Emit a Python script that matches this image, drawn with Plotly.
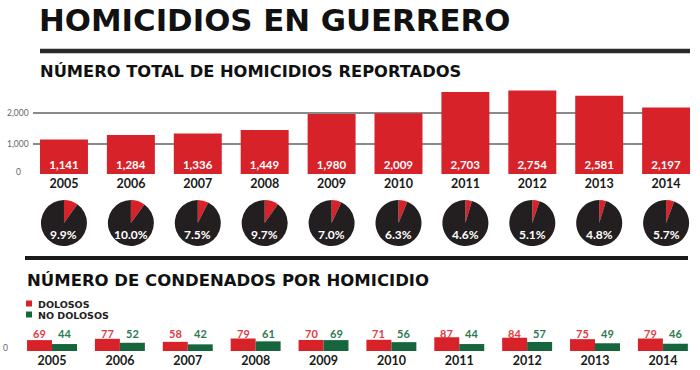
import plotly.graph_objects as go

# ---------------- data ----------------
years = ["2005", "2006", "2007", "2008", "2009", "2010", "2011", "2012", "2013", "2014"]
homicidios = [1141, 1284, 1336, 1449, 1980, 2009, 2703, 2754, 2581, 2197]
pct_condena = [9.9, 10.0, 7.5, 9.7, 7.0, 6.3, 4.6, 5.1, 4.8, 5.7]
dolosos = [69, 77, 58, 79, 70, 71, 87, 84, 75, 79]
no_dolosos = [44, 52, 42, 61, 69, 56, 44, 57, 49, 46]
y_ticks = [0, 1000, 2000]
y_tick_labels = ["0", "1,000", "2,000"]

title = "HOMICIDIOS EN GUERRERO"
subtitle1 = "NÚMERO TOTAL DE HOMICIDIOS REPORTADOS"
subtitle2 = "NÚMERO DE CONDENADOS POR HOMICIDIO"
legend_names = ["DOLOSOS", "NO DOLOSOS"]

# ---------------- style ----------------
W, H = 700, 370
RED = "#d7222a"
PIE_BLACK = "#231f20"
GREEN = "#17653c"
RED_TXT = "#e23a3f"
GREEN_TXT = "#2c7a4e"
GRID = "#8a8a8a"
FONT = "Lato"
HEAD = "DejaVu Sans"


def px_x(p):
    return p / W


def px_y(p):
    return 1 - p / H


# top axis geometry (pixels)
top_left, top_right = 33, 690
top_base, top_top = 174, 83
top_range = [-0.463, 9.357]
top_unit = (top_right - top_left) / (top_range[1] - top_range[0])

# bottom axis geometry
bot_left, bot_right = 21, 688
bot_base, bot_top = 351, 335
bot_range = [-0.457, 9.37]

fig = go.Figure()

# total homicides bars
fig.add_trace(go.Bar(
    x=years, y=homicidios, xaxis="x", yaxis="y",
    width=0.717, offset=-0.3585,
    marker=dict(color=RED, line=dict(width=0)),
    text=[f"{v:,}" for v in homicidios],
    textposition="inside", insidetextanchor="start",
    textfont=dict(family=FONT, size=11.5, color="white", weight="bold"),
    showlegend=False, hoverinfo="skip",
))

# sentenced bars
fig.add_trace(go.Bar(
    x=years, y=dolosos, xaxis="x2", yaxis="y2", name=legend_names[0],
    width=0.368, offset=-0.368,
    marker=dict(color=RED, line=dict(width=0)),
    showlegend=False, hoverinfo="skip",
))
fig.add_trace(go.Bar(
    x=years, y=no_dolosos, xaxis="x2", yaxis="y2", name=legend_names[1],
    width=0.368, offset=0.0,
    marker=dict(color=GREEN, line=dict(width=0)),
    showlegend=False, hoverinfo="skip",
))

annotations = []
shapes = []

# pies
pie_cy, pie_r = 223, 23
for i, p in enumerate(pct_condena):
    cx = top_left + (i - top_range[0]) * top_unit
    fig.add_trace(go.Pie(
        values=[p, 100 - p], sort=False, direction="clockwise", rotation=0,
        marker=dict(colors=[RED, PIE_BLACK], line=dict(width=0)),
        textinfo="none", hoverinfo="skip", showlegend=False,
        domain=dict(x=[px_x(cx - pie_r), px_x(cx + pie_r)],
                    y=[px_y(pie_cy + pie_r), px_y(pie_cy - pie_r)]),
    ))
    annotations.append(dict(
        x=px_x(cx), y=px_y(235), xref="paper", yref="paper",
        text=f"{p:.1f}%", showarrow=False, xanchor="center", yanchor="middle",
        font=dict(family=FONT, size=12, color="white", weight="bold"),
    ))

# bottom value labels
for i, (d, n) in enumerate(zip(dolosos, no_dolosos)):
    annotations.append(dict(
        x=i - 0.184, y=px_y(333.5), xref="x2", yref="paper", text=str(d),
        showarrow=False, xanchor="center", yanchor="middle",
        font=dict(family=FONT, size=11, color=RED_TXT, weight="bold"),
    ))
    annotations.append(dict(
        x=i + 0.184, y=px_y(333.5), xref="x2", yref="paper", text=str(n),
        showarrow=False, xanchor="center", yanchor="middle",
        font=dict(family=FONT, size=11, color=GREEN_TXT, weight="bold"),
    ))

# y tick labels (top)
for v, lab in zip(y_ticks, y_tick_labels):
    annotations.append(dict(
        x=px_x(18), y=v, xref="paper", yref="y", text=lab, showarrow=False,
        xanchor="center", yanchor="middle", yshift=2 if v == 0 else 0,
        font=dict(family=FONT, size=8.5, color="#666666"),
    ))
# bottom "0"
annotations.append(dict(
    x=px_x(5), y=0, xref="paper", yref="y2", text="0", showarrow=False,
    xanchor="center", yanchor="middle", yshift=3,
    font=dict(family=FONT, size=8.5, color="#666666"),
))

# titles
annotations.append(dict(
    x=px_x(37), y=px_y(20), xref="paper", yref="paper", text=title,
    showarrow=False, xanchor="left", yanchor="middle",
    font=dict(family=HEAD, size=30.8, color="#111111", weight="bold"),
))
annotations.append(dict(
    x=px_x(38), y=px_y(71), xref="paper", yref="paper", text=subtitle1,
    showarrow=False, xanchor="left", yanchor="middle",
    font=dict(family=HEAD, size=16.3, color="#111111", weight="bold"),
))
annotations.append(dict(
    x=px_x(25), y=px_y(280), xref="paper", yref="paper", text=subtitle2,
    showarrow=False, xanchor="left", yanchor="middle",
    font=dict(family=HEAD, size=16.5, color="#111111", weight="bold"),
))

# legend (manual)
for name, col, yc in zip(legend_names, [RED, GREEN], [303.5, 314.5]):
    shapes.append(dict(type="rect", xref="paper", yref="paper",
                       x0=px_x(26), x1=px_x(32), y0=px_y(yc + 3), y1=px_y(yc - 3),
                       fillcolor=col, line=dict(width=0)))
    annotations.append(dict(
        x=px_x(36), y=px_y(yc + 1), xref="paper", yref="paper", text=name,
        showarrow=False, xanchor="left", yanchor="middle",
        font=dict(family=HEAD, size=9.5, color="#222222", weight="bold"),
    ))

# rules
shapes.append(dict(type="line", xref="paper", yref="paper",
                   x0=px_x(40), x1=px_x(690), y0=px_y(51), y1=px_y(51),
                   line=dict(color="#2a2a2a", width=4.5)))
shapes.append(dict(type="line", xref="paper", yref="paper",
                   x0=px_x(25), x1=px_x(688), y0=px_y(258), y1=px_y(258),
                   line=dict(color="#1a1a1a", width=4)))

fig.update_layout(
    width=W, height=H, margin=dict(l=0, r=0, t=0, b=0),
    paper_bgcolor="white", plot_bgcolor="white",
    barmode="overlay",
    font=dict(family=FONT),
    xaxis=dict(domain=[px_x(top_left), px_x(top_right)], range=top_range,
               type="category", anchor="y", showgrid=False, zeroline=False,
               showline=False, ticks="", fixedrange=True,
               tickfont=dict(family=FONT, size=12.5, color="#1a1a1a", weight="bold")),
    yaxis=dict(domain=[px_y(top_base), px_y(top_top)],
               range=[0, (top_base - top_top) / 30.3 * 1000],
               tickvals=y_ticks, showticklabels=False, showgrid=True,
               gridcolor=GRID, gridwidth=2, zeroline=False, showline=False,
               fixedrange=True),
    xaxis2=dict(domain=[px_x(bot_left), px_x(bot_right)], range=bot_range,
                type="category", anchor="y2", showgrid=False, zeroline=False,
                showline=False, ticks="", fixedrange=True,
                tickfont=dict(family=FONT, size=12.5, color="#1a1a1a", weight="bold")),
    yaxis2=dict(domain=[px_y(bot_base), px_y(bot_top)],
                range=[0, (bot_base - bot_top) / 0.158],
                tickvals=[0], showticklabels=False, showgrid=True,
                gridcolor=GRID, gridwidth=2, zeroline=False, showline=False,
                fixedrange=True),
    annotations=annotations,
    shapes=shapes,
)

fig.write_html(
    "out.html",
    config={"displayModeBar": False},
    post_script="document.body.style.margin='0';document.body.style.padding='0';",
)
